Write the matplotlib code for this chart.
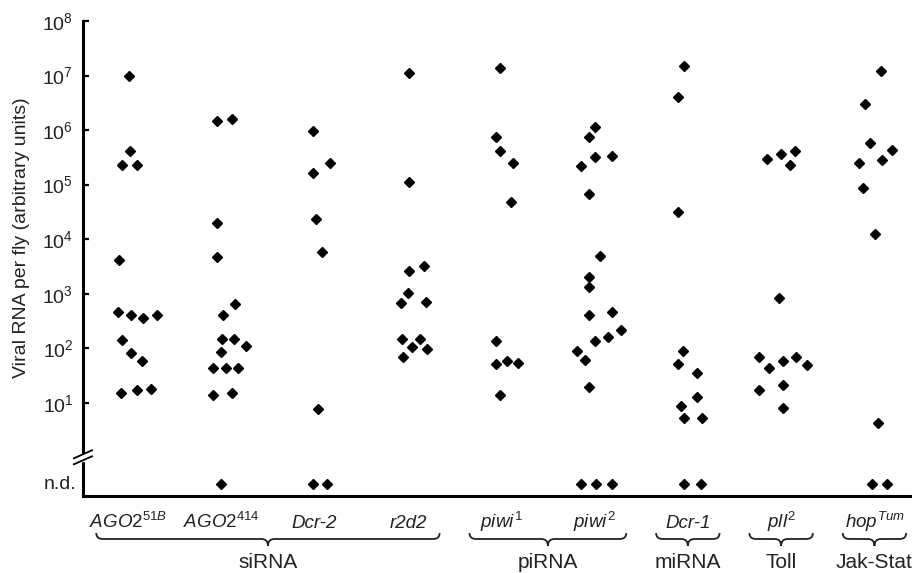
import matplotlib
matplotlib.use('Agg')
import matplotlib.pyplot as plt
import numpy as np
from matplotlib.path import Path
from matplotlib.patches import PathPatch, Rectangle
from matplotlib.ticker import NullLocator

plt.rcParams['font.family'] = ['Liberation Sans', 'DejaVu Sans']
plt.rcParams['mathtext.fontset'] = 'custom'
plt.rcParams['mathtext.rm'] = 'Liberation Sans'
plt.rcParams['mathtext.it'] = 'Liberation Sans:italic'

ND = None   # not detected

# genotype labels: (name, superscript)
genotypes = [('AGO2', '51B'), ('AGO2', '414'), ('Dcr-2', ''), ('r2d2', ''),
             ('piwi', '1'), ('piwi', '2'), ('Dcr-1', ''), ('pll', '2'), ('hop', 'Tum')]

# viral RNA per fly, one list per genotype, with the horizontal jitter of each point
ago2_51b = [1.0e7, 4.2e5, 2.3e5, 2.3e5, 4.2e3, 470, 400, 360, 400, 140, 83, 59, 15, 17, 18]
ago2_51b_dx = [0.01, 0.02, -0.06, 0.10, -0.10, -0.11, 0.03, 0.16, 0.31, -0.06, 0.03, 0.15, -0.08, 0.10, 0.25]

ago2_414 = [1.45e6, 1.6e6, 2.0e4, 4.8e3, 660, 410, 145, 145, 112, 87, 44, 44, 44, 14, 15, ND]
ago2_414_dx = [-0.05, 0.12, -0.05, -0.05, 0.15, 0.02, 0.01, 0.14, 0.26, 0.0, -0.09, 0.05, 0.18, -0.09, 0.12, 0.0]

dcr2 = [9.8e5, 2.5e5, 1.66e5, 2.3e4, 5.9e3, 7.8, ND, ND]
dcr2_dx = [-0.02, 0.17, -0.02, 0.01, 0.08, 0.04, -0.02, 0.13]

r2d2 = [1.1e7, 1.1e5, 2.6e3, 3.2e3, 1.05e3, 680, 710, 148, 107, 145, 98, 68]
r2d2_dx = [0.01, 0.01, 0.01, 0.17, 0.0, -0.07, 0.19, -0.06, 0.04, 0.13, 0.21, -0.05]

piwi1 = [1.4e7, 7.6e5, 4.1e5, 2.5e5, 4.7e4, 138, 52, 59, 54, 14]
piwi1_dx = [-0.01, -0.06, -0.01, 0.13, 0.10, -0.06, -0.06, 0.06, 0.18, -0.01]

piwi2 = [1.15e6, 7.6e5, 3.2e5, 3.4e5, 2.2e5, 6.6e4, 5.0e3, 2.0e3, 1.35e3, 410, 470, 220, 162, 138,
         89, 62, 19.5, ND, ND, ND]
piwi2_dx = [0.0, -0.06, 0.0, 0.19, -0.15, -0.06, 0.06, -0.06, -0.06, -0.06, 0.19, 0.28, 0.14, 0.01,
            -0.19, -0.10, -0.06, -0.15, 0.02, 0.19]

dcr1 = [1.5e7, 4.0e6, 3.2e4, 89, 52, 35, 13, 8.7, 5.2, 5.2, ND, ND]
dcr1_dx = [-0.04, -0.10, -0.10, -0.05, -0.10, 0.10, 0.10, -0.07, -0.04, 0.15, -0.04, 0.14]

pll2 = [3.0e5, 3.7e5, 4.2e5, 2.3e5, 850, 69, 44, 59, 68, 50, 17, 21, 8.1]
pll2_dx = [-0.15, 0.0, 0.15, 0.09, -0.02, -0.24, -0.13, 0.02, 0.16, 0.28, -0.24, 0.02, 0.02]

hop = [1.2e7, 3.0e6, 5.9e5, 4.4e5, 2.5e5, 2.8e5, 8.5e4, 1.26e4, 4.3, ND, ND]
hop_dx = [0.07, -0.10, -0.05, 0.19, -0.17, 0.08, -0.12, 0.01, 0.04, -0.03, 0.13]

values = [ago2_51b, ago2_414, dcr2, r2d2, piwi1, piwi2, dcr1, pll2, hop]
jitter = [ago2_51b_dx, ago2_414_dx, dcr2_dx, r2d2_dx, piwi1_dx, piwi2_dx, dcr1_dx, pll2_dx, hop_dx]

# pathway groups: (name, first genotype, last genotype)
pathways = [('siRNA', 0, 3), ('piRNA', 4, 5), ('miRNA', 6, 6), ('Toll', 7, 7), ('Jak-Stat', 8, 8)]

ND_LEVEL = 0.32     # where n.d. points sit on the axis
BREAK = 1.0         # axis break
TXT = '#222222'

fig = plt.figure(figsize=(9.15, 5.73), dpi=100)
ax = fig.add_axes([83 / 915, 1 - 496 / 573, (910 - 83) / 915, (496 - 21) / 573])

for i, (vals, dxs) in enumerate(zip(values, jitter)):
    xs = [i + d for d in dxs]
    ys = [ND_LEVEL if v is None else v for v in vals]
    ax.plot(xs, ys, linestyle='none', marker='D', ms=5.4, color='black', clip_on=False, zorder=3)

ax.set_yscale('log')
ax.set_ylim(10 ** -0.71, 1e8)
ax.set_xlim(-0.482, 8.381)
ax.set_yticks([10.0 ** k for k in range(1, 9)])
ax.set_yticklabels([r'$10^{%d}$' % k for k in range(1, 9)])
ax.yaxis.set_minor_locator(NullLocator())
ax.set_xticks([])

for s in ['top', 'right']:
    ax.spines[s].set_visible(False)
for s in ['left', 'bottom']:
    ax.spines[s].set_linewidth(2.2)
ax.spines['left'].set_bounds(ax.get_ylim()[0], 1e8)

ax.tick_params(axis='y', direction='in', length=4, width=1.6, pad=7, labelsize=14, labelcolor=TXT)

# n.d. label
ytr = ax.get_yaxis_transform()
ax.text(-0.0085, ND_LEVEL, 'n.d.', transform=ytr, ha='right', va='center', fontsize=14, color=TXT)

# axis break
px = 1 / 54.5
ax.add_patch(Rectangle((-0.012, BREAK * 10 ** (-3.5 * px)), 0.024,
                       BREAK * (10 ** (3.5 * px) - 10 ** (-3.5 * px)),
                       transform=ytr, color='white', clip_on=False, zorder=5))
for s in (-1, 1):
    c = BREAK * 10 ** (s * 3.0 * px)
    ax.plot([-0.011, 0.011], [c * 10 ** (-4 * px), c * 10 ** (4 * px)], transform=ytr,
            color='black', lw=1.3, clip_on=False, zorder=6)

# genotype labels
xtr = ax.get_xaxis_transform()
for i, (name, sup) in enumerate(genotypes):
    if sup:
        lab = r'$\mathit{%s}^{\mathit{%s}}$' % (name, sup)
        ax.text(i, -0.0674, lab, transform=xtr, ha='center', va='baseline', fontsize=13.5, color=TXT)
    else:
        ax.text(i, -0.0674, name, transform=xtr, ha='center', va='baseline', fontsize=13.5,
                style='italic', color=TXT)


def brace(x0, x1, ytop, ymid, ybot, r=0.07):
    xm = (x0 + x1) / 2
    verts = [(x0, ytop), (x0, ymid), (x0 + r, ymid), (xm - r, ymid), (xm, ymid), (xm, ybot),
             (xm, ymid), (xm + r, ymid), (x1 - r, ymid), (x1, ymid), (x1, ytop)]
    codes = [Path.MOVETO, Path.CURVE3, Path.CURVE3, Path.LINETO, Path.CURVE3, Path.CURVE3,
             Path.CURVE3, Path.CURVE3, Path.LINETO, Path.CURVE3, Path.CURVE3]
    ax.add_patch(PathPatch(Path(verts, codes), transform=xtr, facecolor='none', edgecolor=TXT,
                           lw=1.3, clip_on=False))


for name, a, b in pathways:
    brace(a - 0.34, b + 0.34, -0.078, -0.0905, -0.105)
    ax.text((a + b) / 2, -0.152, name, transform=xtr, ha='center', va='baseline', fontsize=15, color=TXT)

fig.text(22 / 915, 1 - 238 / 573, 'Viral RNA per fly (arbitrary units)', rotation=90,
         ha='center', va='center', fontsize=14, color=TXT)

fig.savefig('out.png', dpi=100)
